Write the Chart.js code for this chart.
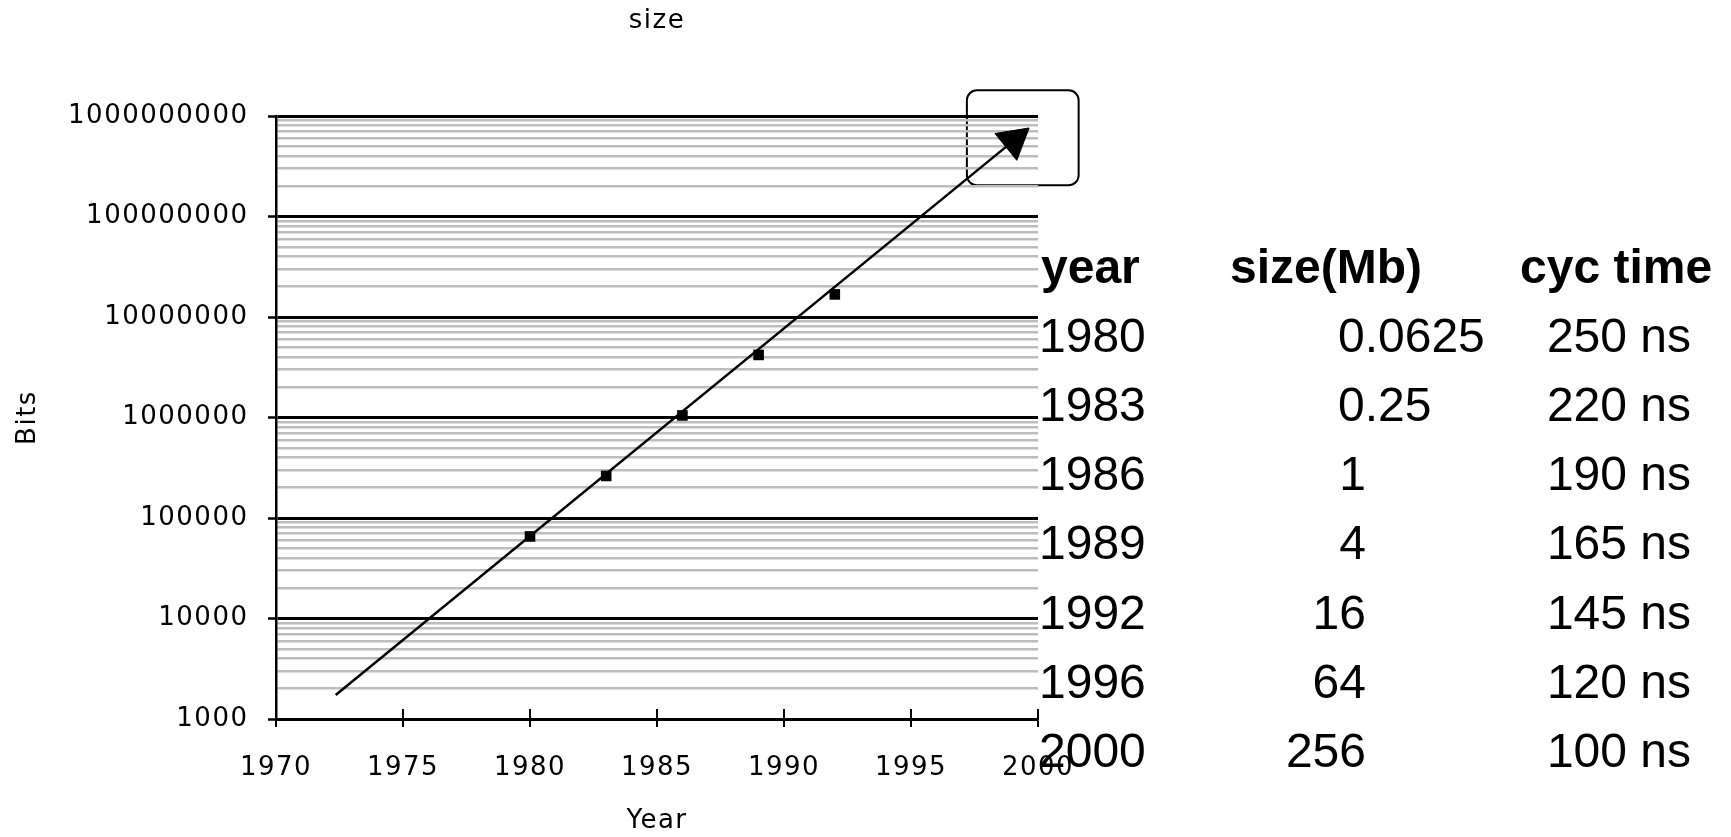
<!DOCTYPE html>
<html>
<head>
<meta charset="utf-8">
<script src="https://cdn.jsdelivr.net/npm/chart.js@4/dist/chart.umd.min.js"></script>
<style>
  html, body { margin: 0; padding: 0; background: #fff; }
  #wrap { width: 1731px; height: 837px; position: relative; }
</style>
</head>
<body>
<div id="wrap"><canvas id="dramChart"></canvas></div>
<script>
// axis ticks
let yearTicks = [1970, 1975, 1980, 1985, 1990, 1995, 2000];
let bitTicks = [1000, 10000, 100000, 1000000, 10000000, 100000000, 1000000000];
let minorSteps = [2, 3, 4, 5, 6, 7, 8, 9];

// plotted chips (bits)
let markerYears = [1980, 1983, 1986, 1989, 1992];
let markerBits = [65536, 262144, 1048576, 4194304, 16777216];

// trend arrow, start and head
let trendYears = [1972.35, 1999.04];
let trendBits = [1730, 569000000];

// rounded box round the arrow head
let boxYears = [1997.2, 2001.6];
let boxBits = [205000000, 1800000000];

// table on the right
let tableHeaders = ['year', 'size(Mb)', 'cyc time'];
let tableYears = [1980, 1983, 1986, 1989, 1992, 1996, 2000];
let tableSizes = [0.0625, 0.25, 1, 4, 16, 64, 256];
let tableCycles = [250, 220, 190, 165, 145, 120, 100];

Chart.defaults.font.family = '"DejaVu Sans", sans-serif';
Chart.defaults.font.size = 26;
Chart.defaults.color = '#000';

let chartDecor = {
  id: 'chartDecor',
  beforeDraw(chart) {
    let ctx = chart.ctx;
    ctx.letterSpacing = '1.5px';
    let xs = chart.scales.x, ys = chart.scales.y;
    let l = xs.getPixelForValue(boxYears[0]), r = xs.getPixelForValue(boxYears[1]);
    let t = ys.getPixelForValue(boxBits[1]), b = ys.getPixelForValue(boxBits[0]);
    ctx.save();
    ctx.strokeStyle = '#000';
    ctx.lineWidth = 2;
    ctx.beginPath();
    ctx.roundRect(l, t, r - l, b - t, 10);
    ctx.stroke();
    ctx.restore();
  },
  afterDraw(chart) {
    let ctx = chart.ctx;
    let xs = chart.scales.x;
    ctx.save();
    // tick marks also cross into the plot
    ctx.strokeStyle = '#000';
    ctx.lineWidth = 2;
    xs.ticks.forEach(t => {
      let px = Math.round(xs.getPixelForValue(t.value));
      ctx.beginPath();
      ctx.moveTo(px, xs.top);
      ctx.lineTo(px, xs.top - 10);
      ctx.stroke();
    });

    ctx.letterSpacing = '0px';
    ctx.fillStyle = '#000';
    ctx.textBaseline = 'alphabetic';
    let rowY = 283, rowGap = 69.1;
    ctx.font = 'bold 48px "Liberation Sans", Arial, sans-serif';
    ctx.textAlign = 'left';
    ctx.fillText(tableHeaders[0], 1041, rowY);
    ctx.fillText(tableHeaders[1], 1230, rowY);
    ctx.fillText(tableHeaders[2], 1520, rowY);

    ctx.font = '48px "Liberation Sans", Arial, sans-serif';
    tableYears.forEach((yr, i) => {
      let y = rowY + rowGap * (i + 1);
      ctx.textAlign = 'left';
      ctx.fillText(String(yr), 1039, y);
      if (tableSizes[i] < 1) {
        ctx.fillText(String(tableSizes[i]), 1338, y);
      } else {
        ctx.textAlign = 'right';
        ctx.fillText(String(tableSizes[i]), 1366, y);
      }
      ctx.textAlign = 'right';
      ctx.fillText(tableCycles[i] + ' ns', 1691, y);
    });
    ctx.restore();
  }
};

let dramData = {
  datasets: [{
    label: 'trend',
    data: trendYears.map((yr, i) => ({x: yr, y: trendBits[i]})),
    borderColor: '#000',
    borderWidth: 2.5,
    pointStyle: 'triangle',
    pointRadius: [0, 20],
    pointRotation: [0, 50.8],
    pointBackgroundColor: '#000',
    pointBorderColor: '#000',
    pointBorderWidth: 1,
  }, {
    label: 'size',
    data: markerYears.map((yr, i) => ({x: yr, y: markerBits[i]})),
    showLine: false,
    pointStyle: 'rect',
    pointRadius: 7.5,
    pointBackgroundColor: '#000',
    pointBorderColor: '#000',
    pointBorderWidth: 0,
  }]
};

let myChart = document.getElementById('dramChart').getContext('2d');
let newChart = new Chart(myChart, {
  type: 'line',
  data: dramData,
  plugins: [chartDecor],
  options: {
    responsive: true,
    maintainAspectRatio: false,
    animation: false,
    layout: {
      padding: {left: 0, right: 693, top: 0, bottom: 0}
    },
    plugins: {
      legend: {display: false},
      tooltip: {enabled: false},
      title: {
        display: true,
        text: 'size',
        fullSize: false,
        color: '#000',
        font: {size: 26, weight: 'normal'},
        padding: {top: 5.4, bottom: 79.4},
      },
    },
    scales: {
      x: {
        type: 'linear',
        min: 1970,
        max: 2000,
        afterBuildTicks: scale => { scale.ticks = yearTicks.map(v => ({value: v})); },
        afterFit: scale => { scale.height = 118; },
        ticks: {
          padding: 25.4,
          maxRotation: 0,
          autoSkip: false,
          callback: v => String(v),
        },
        grid: {
          drawOnChartArea: false,
          color: '#000',
          lineWidth: 2,
          tickLength: 8,
        },
        border: {color: '#000', width: 2.5},
        title: {
          display: true,
          text: 'Year',
          padding: {top: 0, bottom: 0},
        },
      },
      y: {
        type: 'logarithmic',
        min: 1000,
        max: 1000000000,
        afterBuildTicks: scale => {
          let ticks = [];
          bitTicks.forEach((d, i) => {
            ticks.push({value: d});
            if (i < bitTicks.length - 1) {
              minorSteps.forEach(s => ticks.push({value: d * s}));
            }
          });
          scale.ticks = ticks;
        },
        afterFit: scale => { scale.width = 276; },
        ticks: {
          padding: 19.5,
          autoSkip: false,
          callback: v => bitTicks.includes(v) ? String(v) : '',
        },
        grid: {
          color: c => bitTicks.includes(c.tick.value) ? '#000' : '#bdbdbd',
          lineWidth: c => bitTicks.includes(c.tick.value) ? 3 : 2.5,
          tickLength: 8,
          tickWidth: 2.5,
          tickColor: c => bitTicks.includes(c.tick.value) ? '#000' : 'rgba(0,0,0,0)',
        },
        border: {color: '#000', width: 2.5},
        title: {
          display: true,
          text: 'Bits',
          padding: {top: 12.4, bottom: 0},
        },
      },
    },
  }
});
</script>
</body>
</html>
